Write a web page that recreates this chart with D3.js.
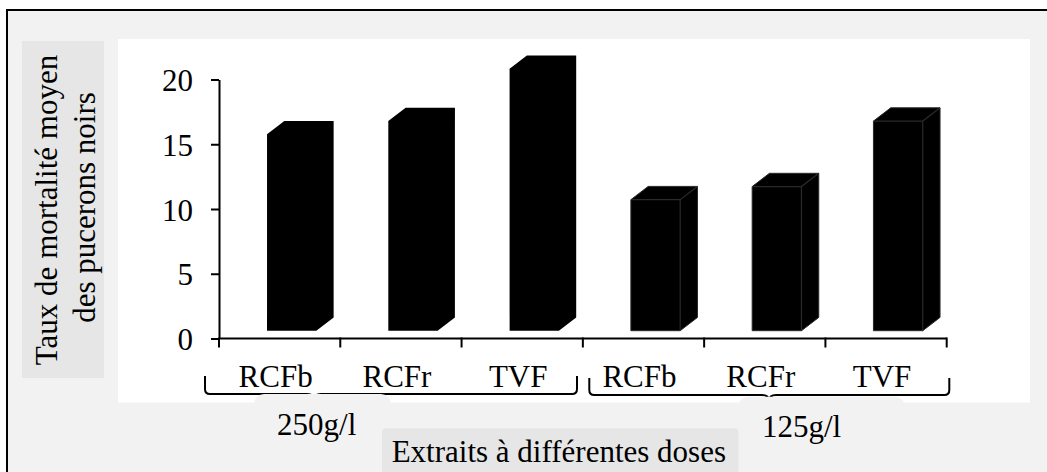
<!DOCTYPE html>
<html>
<head>
<meta charset="utf-8">
<script src="https://cdn.jsdelivr.net/npm/d3@7/dist/d3.min.js"></script>
<style>
  html, body { margin: 0; padding: 0; background: #ffffff; }
  svg { display: block; }
  text { font-family: "Liberation Serif", "Times New Roman", serif; fill: #000; }
</style>
</head>
<body>
<svg id="chart" width="1047" height="472"></svg>
<script>
// Mortality of black aphids by extract and dose
const doses = ["250g/l", "125g/l"];
const extracts = ["RCFb", "RCFr", "TVF"];
const values250 = [15, 16, 20];
const values125 = [10, 11, 16];
const yTicks = [0, 5, 10, 15, 20];
const yTitle = ["Taux de mortalité moyen", "des pucerons noirs"];
const xTitle = "Extraits à différentes doses";

const rows = [];
doses.forEach((dose, g) => {
  const vals = g === 0 ? values250 : values125;
  extracts.forEach((ext, i) => rows.push({ key: dose + "|" + ext, dose, ext, group: g, value: vals[i] }));
});

const W = 1047, H = 472;
const svg = d3.select("#chart");
const FS = 31;

// frame
svg.append("rect").attr("x", 7).attr("y", 10).attr("width", W - 7).attr("height", H - 10).attr("fill", "#f2f2f2");
svg.append("path").attr("d", `M7,${H} L7,10 L${W},10`).attr("fill", "none").attr("stroke", "#000").attr("stroke-width", 2);

// plot area
svg.append("rect").attr("x", 118).attr("y", 39).attr("width", 1030 - 118).attr("height", 402.5 - 39).attr("fill", "#ffffff");

// scales
const x = d3.scaleBand().domain(rows.map(d => d.key)).range([219, 946.7]).padding(0);
const y = d3.scaleLinear().domain([0, 20]).range([338.5, 79.5]);
// front plane of the 3-D columns sits slightly forward of the axis plane
const yFront = d3.scaleLinear().domain([0, 20]).range([330.7, 68.7]);
const bw = x.bandwidth();
const depthX = 17.3, depthY = 13.3;

// y axis
const yAxis = d3.axisLeft(y).tickValues(yTicks).tickSize(8).tickPadding(18).tickSizeOuter(0);
const gy = svg.append("g").attr("transform", "translate(219,0)").call(yAxis);
gy.select(".domain").attr("stroke", "#000").attr("stroke-width", 2);
gy.selectAll(".tick line").attr("stroke", "#000").attr("stroke-width", 2);
gy.selectAll(".tick text").attr("font-size", FS).attr("font-family", "Liberation Serif, Times New Roman, serif").attr("dy", "0.36em");

// x axis with ticks at category boundaries
const bounds = rows.map(d => x(d.key)).concat([x.range()[1]]);
svg.append("line").attr("x1", 219).attr("x2", x.range()[1]).attr("y1", y(0)).attr("y2", y(0))
  .attr("stroke", "#000").attr("stroke-width", 2);
svg.selectAll(".xtick").data(bounds).join("line").attr("class", "xtick")
  .attr("x1", d => d).attr("x2", d => d).attr("y1", y(0) - 1).attr("y2", y(0) + 9)
  .attr("stroke", "#000").attr("stroke-width", 2);

// 3-D columns
function boxOutline(d) {
  const fl = x(d.key) + bw * 0.396, fr = fl + bw * 0.4065;
  const top = yFront(d.value), bot = yFront(0);
  return `M${fl},${top} L${fl + depthX},${top - depthY} L${fr + depthX},${top - depthY} L${fr + depthX},${bot - depthY} L${fr},${bot} L${fl},${bot} Z`;
}
function boxEdges(d) {
  const fl = x(d.key) + bw * 0.396, fr = fl + bw * 0.4065;
  const top = yFront(d.value), bot = yFront(0);
  return `M${fl},${top} L${fr},${top} L${fr + depthX},${top - depthY} M${fr},${top} L${fr},${bot}`;
}
svg.selectAll(".bar").data(rows).join("path").attr("class", "bar")
  .attr("d", boxOutline)
  .attr("fill", "#000")
  .attr("stroke", d => d.group === 0 ? "none" : "#2a2a2a")
  .attr("stroke-width", 1);
svg.selectAll(".edge").data(rows.filter(d => d.group === 1)).join("path").attr("class", "edge")
  .attr("d", boxEdges).attr("fill", "none").attr("stroke", "#2a2a2a").attr("stroke-width", 1.2);

// category labels
svg.selectAll(".cat").data(rows).join("text").attr("class", "cat")
  .attr("x", d => x(d.key) + bw / 2 - 4).attr("y", 387.3)
  .attr("text-anchor", "middle").attr("font-size", FS).text(d => d.ext);

// braces under each dose group
const braces = [
  { x0: 205, x1: 577, tip: 314, top: 376, base: 394, label: doses[0], box: [254, 391, 394], lx: 316.7, ly: 435 },
  { x0: 589.3, x1: 949.3, tip: 769, top: 378, base: 395, label: doses[1], box: [738, 905, 396.7], lx: 801.5, ly: 436.7 }
];
braces.forEach(b => {
  const p = `M${b.x0},${b.top} L${b.x0},${b.base - 5} Q${b.x0},${b.base} ${b.x0 + 5},${b.base}` +
    ` L${b.tip - 7},${b.base} Q${b.tip},${b.base} ${b.tip},${b.base + 6} Q${b.tip},${b.base} ${b.tip + 7},${b.base}` +
    ` L${b.x1 - 5},${b.base} Q${b.x1},${b.base} ${b.x1},${b.base - 5} L${b.x1},${b.top}`;
  svg.append("path").attr("d", p).attr("fill", "none").attr("stroke", "#000").attr("stroke-width", 2);
  svg.append("rect").attr("x", b.box[0]).attr("y", b.box[2]).attr("width", b.box[1] - b.box[0]).attr("height", 60)
    .attr("rx", 10).attr("fill", "#f2f2f2");
  svg.append("text").attr("x", b.lx).attr("y", b.ly).attr("text-anchor", "middle").attr("font-size", FS).text(b.label);
});

// y title
svg.append("rect").attr("x", 22).attr("y", 41).attr("width", 82).attr("height", 337).attr("fill", "#e6e6e6");
svg.append("text").attr("transform", "translate(56.5,210) rotate(-90)").attr("text-anchor", "middle")
  .attr("font-size", FS).text(yTitle[0]);
svg.append("text").attr("transform", "translate(95,207.5) rotate(-90)").attr("text-anchor", "middle")
  .attr("font-size", FS).text(yTitle[1]);

// x title
svg.append("rect").attr("x", 382).attr("y", 428.3).attr("width", 356.5).attr("height", 60).attr("rx", 4).attr("fill", "#e6e6e6");
svg.append("text").attr("x", 391.7).attr("y", 461.7).attr("font-size", FS).text(xTitle);
</script>
</body>
</html>
